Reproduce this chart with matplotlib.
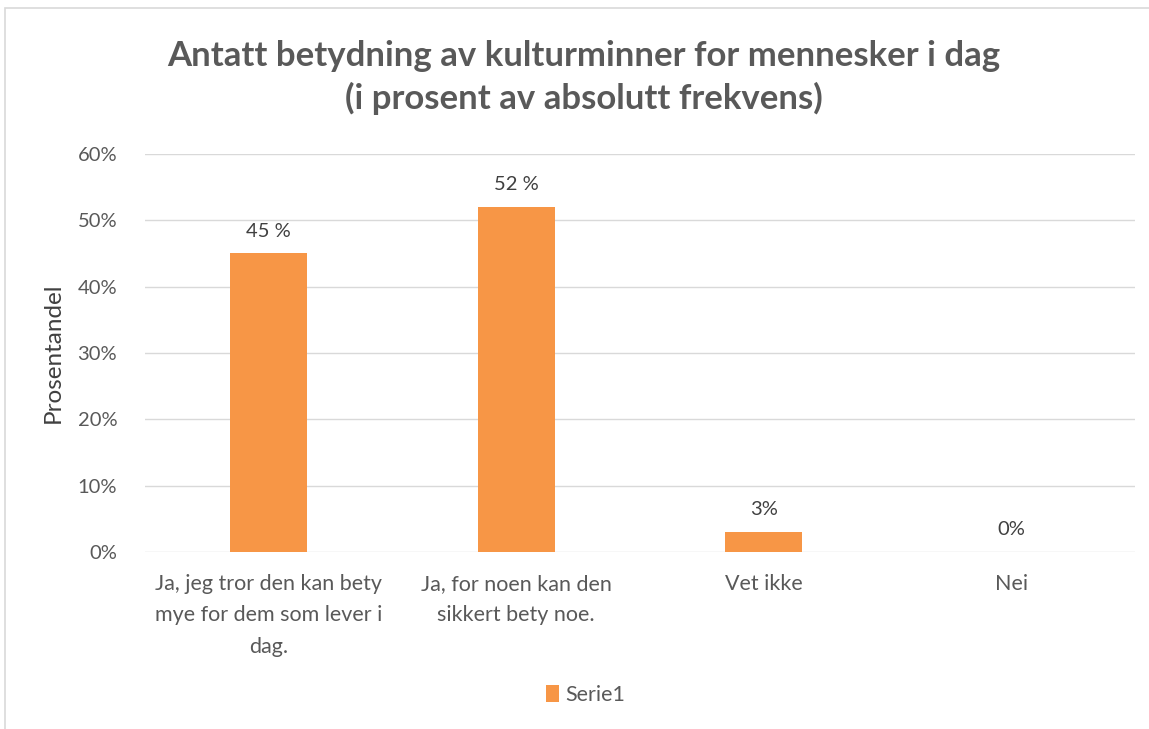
import matplotlib
matplotlib.use("Agg")
import matplotlib.pyplot as plt
from matplotlib.patches import Rectangle

plt.rcParams['font.family'] = ['Lato', 'DejaVu Sans']

categories = ["Ja, jeg tror den kan bety\nmye for dem som lever i\ndag.",
              "Ja, for noen kan den\nsikkert bety noe.",
              "Vet ikke",
              "Nei"]
values = [0.45, 0.52, 0.03, 0.0]
value_labels = ["45 %", "52 %", "3%", "0%"]
yticks = [0, 0.1, 0.2, 0.3, 0.4, 0.5, 0.6]
ytick_labels = ["0%", "10%", "20%", "30%", "40%", "50%", "60%"]

ORANGE = "#f79646"
GRID = "#d9d9d9"
TXT = "#595959"

fig = plt.figure(figsize=(11.49, 7.29), dpi=100)
ax = fig.add_axes([0.1262, 0.2428, 0.8616, 0.546])

x = list(range(len(categories)))
ax.bar(x, values, width=0.31, color=ORANGE, zorder=3, label="Serie1")
for xi, v, lab in zip(x, values, value_labels):
    ax.text(xi, v + 0.021, lab, ha='center', va='bottom', fontsize=14.5, color="#404040")

ax.set_xlim(-0.5, 3.5)
ax.set_ylim(0, 0.6)
ax.set_yticks(yticks)
ax.set_yticklabels(ytick_labels, fontsize=14.5, color=TXT)
ax.set_xticks(x)
ax.set_xticklabels(categories, fontsize=15.5, color=TXT, linespacing=1.7, va='top')
ax.tick_params(axis='both', length=0)
ax.tick_params(axis='x', pad=16)
ax.tick_params(axis='y', pad=20)
ax.grid(axis='y', color=GRID, linewidth=1, zorder=0)
for s in ax.spines.values():
    s.set_visible(False)
ax.set_ylabel("Prosentandel", fontsize=17.5, color="#404040", labelpad=10)

fig.suptitle("Antatt betydning av kulturminner for mennesker i dag\n(i prosent av absolutt frekvens)",
             x=0.508, y=0.945, fontsize=25, fontweight='bold', color=TXT, linespacing=1.35)

leg = fig.legend(loc='center', bbox_to_anchor=(0.51, 0.047), frameon=False, fontsize=15.5,
                 handlelength=0.6, handleheight=0.9, handletextpad=0.3)
for t in leg.get_texts():
    t.set_color(TXT)

fig.patches.append(Rectangle((0.004, -0.01), 1.1, 0.999, transform=fig.transFigure,
                             fill=False, edgecolor=GRID, linewidth=1.2))

fig.savefig("out.png", dpi=100)
